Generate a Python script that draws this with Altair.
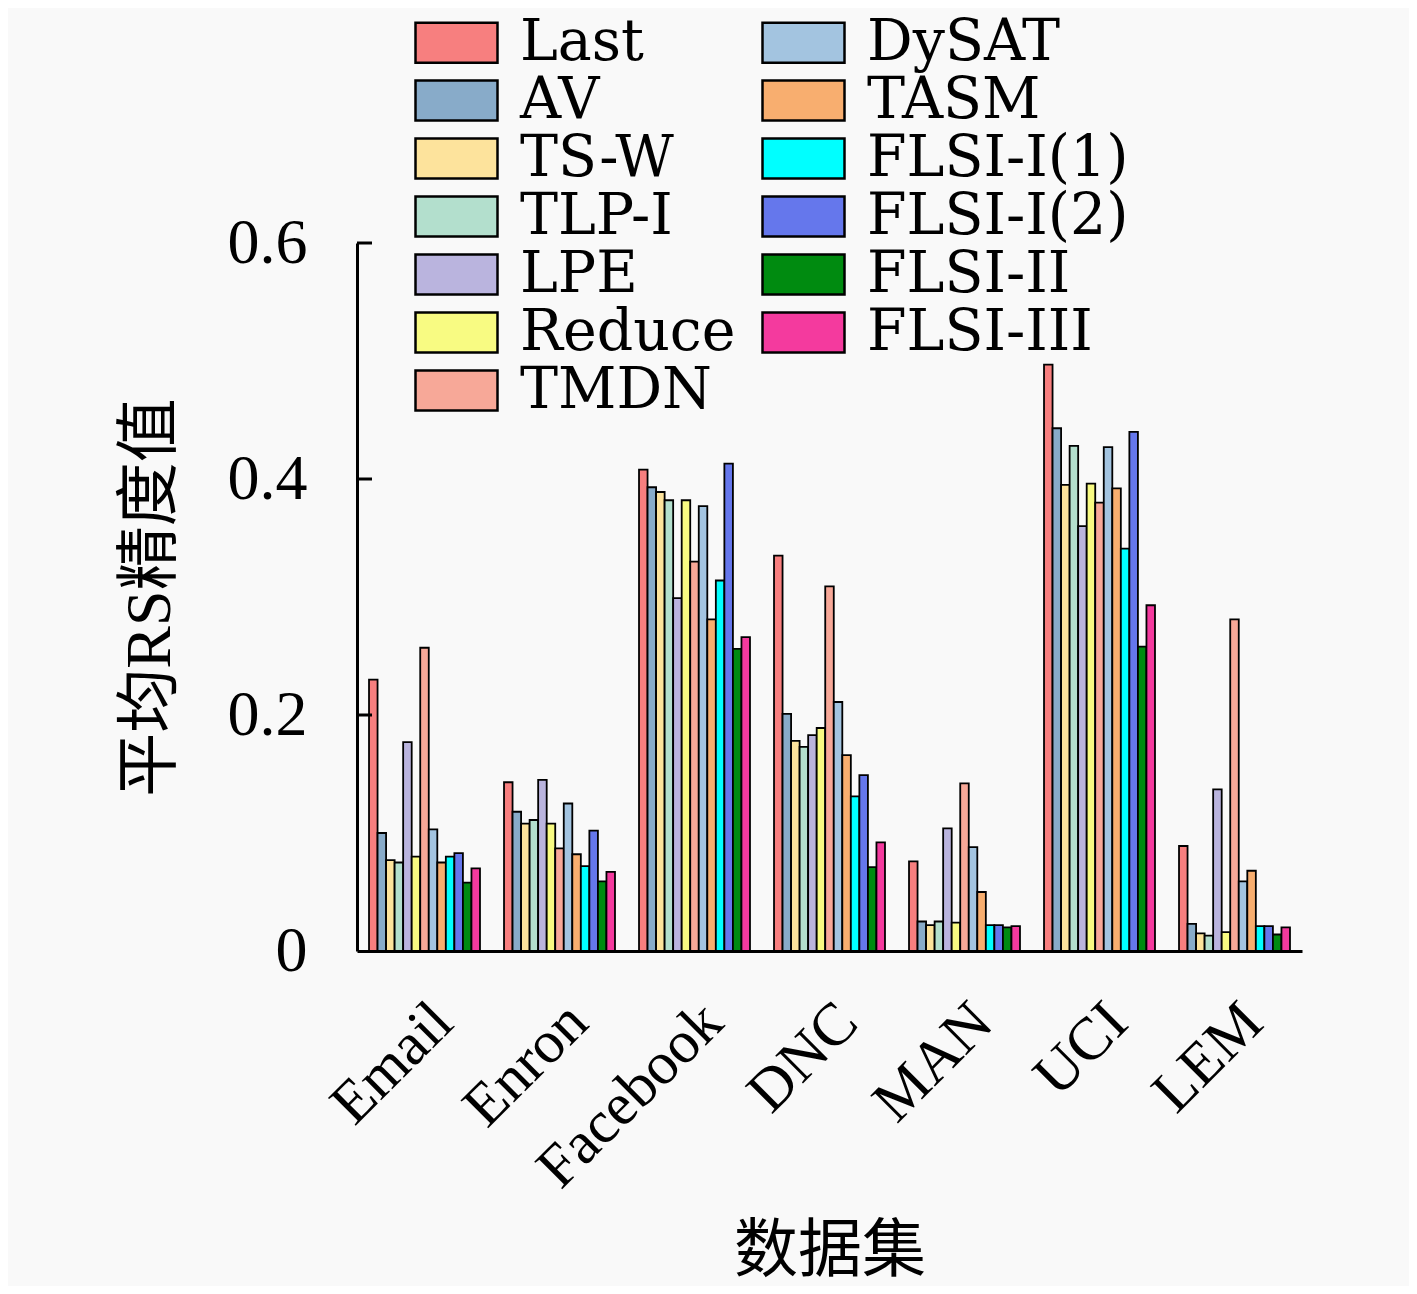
import altair as alt
import pandas as pd

datasets = ["Email", "Enron", "Facebook", "DNC", "MAN", "UCI", "LEM"]
methods = ["Last", "AV", "TS-W", "TLP-I", "LPE", "Reduce", "TMDN",
           "DySAT", "TASM", "FLSI-I(1)", "FLSI-I(2)", "FLSI-II", "FLSI-III"]

v_last = [0.230, 0.143, 0.408, 0.335, 0.076, 0.497, 0.089]
v_av = [0.100, 0.118, 0.393, 0.201, 0.025, 0.443, 0.023]
v_tsw = [0.077, 0.108, 0.389, 0.178, 0.022, 0.395, 0.015]
v_tlpi = [0.075, 0.111, 0.382, 0.173, 0.025, 0.428, 0.013]
v_lpe = [0.177, 0.145, 0.299, 0.183, 0.104, 0.360, 0.137]
v_reduce = [0.080, 0.108, 0.382, 0.189, 0.024, 0.396, 0.016]
v_tmdn = [0.257, 0.087, 0.330, 0.309, 0.142, 0.380, 0.281]
v_dysat = [0.103, 0.125, 0.377, 0.211, 0.088, 0.427, 0.059]
v_tasm = [0.075, 0.082, 0.281, 0.166, 0.050, 0.392, 0.068]
v_flsi1 = [0.080, 0.072, 0.314, 0.131, 0.022, 0.341, 0.021]
v_flsi2 = [0.083, 0.102, 0.413, 0.149, 0.022, 0.440, 0.021]
v_flsi_ii = [0.058, 0.059, 0.256, 0.071, 0.020, 0.258, 0.014]
v_flsi_iii = [0.070, 0.067, 0.266, 0.092, 0.021, 0.293, 0.020]

colors = ["#f77f7f", "#88abc9", "#fde39c", "#b3dfcd", "#bab4de", "#f8fb82", "#f7a898",
          "#a3c4e0", "#f8ae6f", "#00ffff", "#6577ec", "#008b10", "#f43a9e"]

y_ticks = [0.2, 0.4, 0.6]

series = [v_last, v_av, v_tsw, v_tlpi, v_lpe, v_reduce, v_tmdn,
          v_dysat, v_tasm, v_flsi1, v_flsi2, v_flsi_ii, v_flsi_iii]

rows = []
for m, vals in zip(methods, series):
    for d, v in zip(datasets, vals):
        rows.append({"dataset": d, "method": m, "value": v})
df = pd.DataFrame(rows)

FONT = "Liberation Serif, Noto Sans CJK SC"
LEGEND_FONT = "DejaVu Serif, Liberation Serif"

bars = alt.Chart(df).mark_bar(stroke="black", strokeWidth=1.8).encode(
    x=alt.X(
        "dataset:N", sort=datasets,
        scale=alt.Scale(paddingInner=0.178, paddingOuter=0.089),
        axis=alt.Axis(
            title="数据集", labelAngle=-45, labelFont=FONT, labelFontSize=60,
            labelColor="black", labelPadding=41, labelOffset=-2, labelLimit=0,
            ticks=False, domainColor="black", domainWidth=3, grid=False,
            titleFont=FONT, titleFontSize=64, titleFontWeight="normal", titleColor="black",
            titleX=472.5, titleY=300, titleBaseline="middle", titleAlign="center",
        ),
    ),
    xOffset=alt.XOffset("method:N", sort=methods,
                        scale=alt.Scale(paddingInner=0, paddingOuter=0)),
    y=alt.Y(
        "value:Q", scale=alt.Scale(domain=[0, 0.6], nice=False),
        axis=alt.Axis(
            title="平均RS精度值", values=[0, 0.2, 0.4, 0.6], format=".1~f",
            ticks=False, grid=False, domainColor="black", domainWidth=3,
            labelFont=FONT, labelFontSize=64, labelColor="black", labelPadding=50,
            titleFont=FONT, titleFontSize=64, titleFontWeight="normal", titleColor="black",
            titleX=-207, titleY=354, titleBaseline="middle", titleAlign="center",
        ),
    ),
    color=alt.Color(
        "method:N",
        scale=alt.Scale(domain=methods, range=colors),
        legend=alt.Legend(
            title=None, orient="none", legendX=71, legendY=-229, columns=2,
            gridAlign="each", padding=0,
            symbolType="M-2.05,-1H2.05V1H-2.05Z", symbolSize=1600,
            symbolStrokeColor="black", symbolStrokeWidth=2.5, symbolOpacity=1,
            labelFont=LEGEND_FONT, labelFontSize=57, labelColor="black", labelOffset=35,
            labelLimit=0, rowPadding=0, columnPadding=21,
        ),
    ),
)

tick_df = pd.DataFrame({"tick": y_ticks})
ticks = alt.Chart(tick_df).mark_rule(color="black", strokeWidth=3).encode(
    y=alt.Y("tick:Q"),
    x=alt.value(0),
    x2=alt.value(15),
)

chart = alt.layer(bars, ticks).properties(
    width=945, height=708,
    padding={"left": 349, "top": 235, "right": 107, "bottom": 335},
    autosize=alt.AutoSizeParams(type="none"),
    background="#f9f9f9",
).configure_view(stroke=None)

chart.save("out.html", embed_options={"renderer": "svg", "actions": False})
